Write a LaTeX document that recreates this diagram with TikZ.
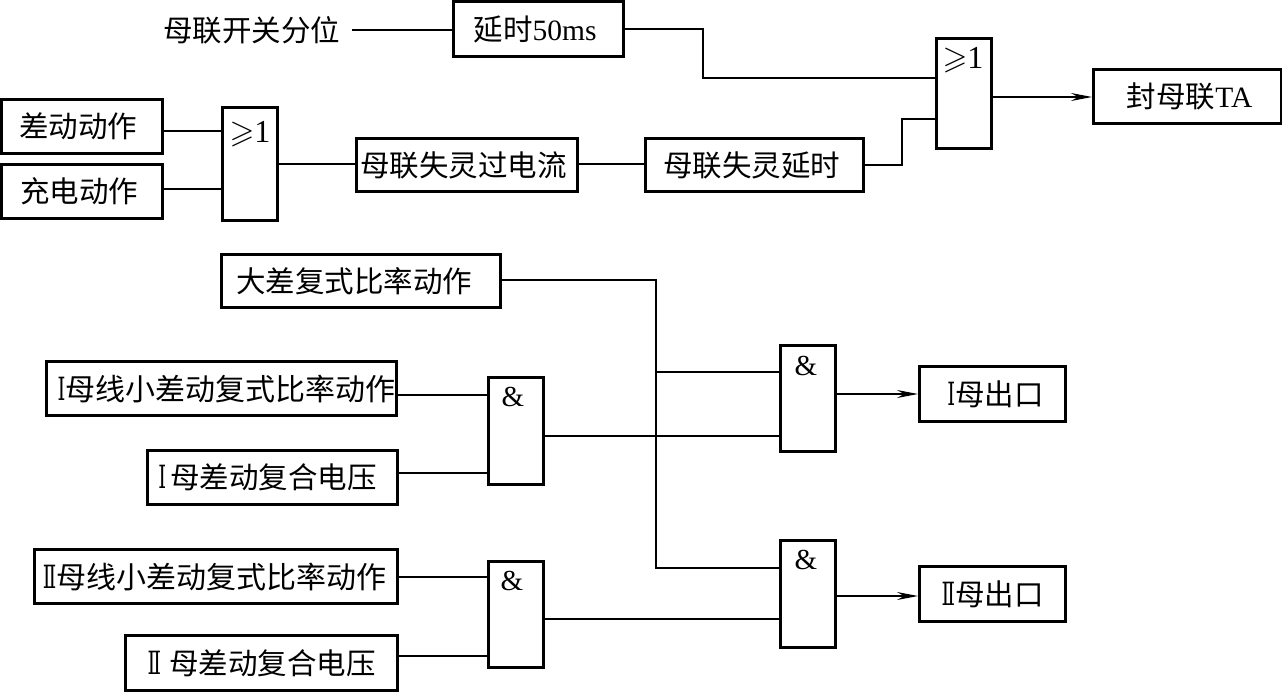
\documentclass[tikz,border=0pt]{standalone}
\usepackage{fontspec}
\setmainfont{Liberation Serif}
\newfontfamily\cjk{Noto Sans CJK SC}
\newfontfamily\romf{DejaVu Serif}
\usepackage{amssymb}
\usetikzlibrary{arrows.meta}
\tikzset{
 x=1pt,y=-1pt,
 lbl/.style={font=\cjk\fontsize{29.5}{31}\selectfont,inner sep=0pt},
 box/.style={draw,line width=3.2pt,font=\cjk\fontsize{29.5}{31}\selectfont,inner sep=0pt,minimum width=#1,minimum height=52pt,anchor=north west,xshift=-1pt,yshift=1pt},
 gate/.style={draw,line width=3pt,minimum width=55pt,inner sep=0pt,anchor=north west,xshift=-1pt,yshift=1pt},
 sym/.style={font=\fontsize{32}{34}\selectfont,inner sep=0pt},
 amp/.style={font=\fontsize{29}{31}\selectfont,inner sep=0pt},
 wire/.style={line width=1.15pt},
 arr/.style={line width=1.15pt,-{Stealth[length=21pt,width=8pt,inset=7pt]}},
}
\newcommand{\geone}{$\geqslant$1}
\newcommand{\lat}[1]{{\rmfamily #1}}
\newcommand{\romI}{{\romf\scalebox{0.62}[1]{\fontsize{32}{34}\selectfont Ⅰ}}}
\newcommand{\romII}{{\romf\scalebox{0.62}[1]{\fontsize{32}{34}\selectfont Ⅱ}}}
\newcommand{\bigt}{\fontsize{30}{32}\selectfont}
\begin{document}
\begin{tikzpicture}
\useasboundingbox (0,0) rectangle (1282,691);
\node[lbl] (kf) at (251.5,30) {母联开关分位};
\node[box=170pt,minimum height=55pt] (d50) at (453,1) {延时\lat{50ms}\kern7pt};
\node[gate,minimum height=110pt] (or2) at (936,38) {};
\node[sym] at (963,60) {\geone};
\node[box=188pt,minimum height=54pt] (fm) at (1093,69) {\kern4pt 封母联\lat{TA}};
\node[box=161pt,minimum height=54pt] (cd) at (1,99) {差动动作\kern8pt};
\node[box=161pt,minimum height=54pt] (cc) at (1,164) {充电动作\kern6pt};
\node[gate,minimum height=113pt] (or1) at (222,107) {};
\node[sym] at (250,134) {\geone};
\node[box=221pt,minimum height=53pt] (gl) at (356,138) {母联失灵过电流\kern7pt};
\node[box=218pt,minimum height=53pt] (ys) at (645,138) {母联失灵延时\kern6pt};
\node[box=279pt,minimum height=53pt] (dc) at (221,254) {大差复式比率动作\kern14pt};
\node[box=350pt,minimum height=54pt] (x1) at (46,361) {\kern10pt{\bigt\romI 母线小差动复式比率动作}};
\node[box=250pt,minimum height=54pt] (v1) at (147,450) {\romI\kern4pt 母差动复合电压\kern10pt};
\node[gate,minimum height=107pt] (a1) at (488,377) {};
\node[amp] at (513,397) {\&};
\node[gate,minimum height=106pt] (a2) at (780,345) {};
\node[amp] at (806,366) {\&};
\node[box=146pt,minimum height=55pt] (o1) at (919,366) {\kern6pt\romI 母出口};
\node[box=363pt,minimum height=54pt] (x2) at (34,549) {{\bigt\romII 母线小差动复式比率动作}\kern3pt};
\node[box=272pt,minimum height=55pt] (v2) at (125,635) {\romII\kern8pt 母差动复合电压};
\node[gate,minimum height=106pt] (a3) at (488,561) {};
\node[amp] at (512,581) {\&};
\node[gate,minimum height=107pt] (a4) at (780,540) {};
\node[amp] at (806,560) {\&};
\node[box=146pt,minimum height=55pt] (o2) at (919,566) {\romII 母出口};
\coordinate (j) at (656,372);
\coordinate (ks) at (352,30);
\draw[wire] (ks) -- (d50.west |- ks);
\draw[wire] (d50.east |- 0,29) -- (703,29) -- (703,78) -- (or2.west |- 0,78);
\draw[wire] (ys.east |- 0,165) -- (902,165) -- (902,119) -- (or2.west |- 0,119);
\draw[arr] (or2.east |- 0,97) -- (fm.west |- 0,97);
\draw[wire] (cd.east |- 0,131) -- (or1.west |- 0,131);
\draw[wire] (cc.east |- 0,189) -- (or1.west |- 0,189);
\draw[wire] (or1.east |- 0,164) -- (gl.west |- 0,164);
\draw[wire] (gl.east |- 0,164) -- (ys.west |- 0,164);
\draw[wire] (dc.east |- 0,280) -- (656,280) -- (656,568) -- (a4.west |- 0,568);
\draw[wire] (j) -- (a2.west |- j);
\draw[wire] (x1.east |- 0,395) -- (a1.west |- 0,395);
\draw[wire] (v1.east |- 0,473) -- (a1.west |- 0,473);
\draw[wire] (a1.east |- 0,436) -- (a2.west |- 0,436);
\draw[arr] (a2.east |- 0,394) -- (o1.west |- 0,394);
\draw[wire] (x2.east |- 0,577) -- (a3.west |- 0,577);
\draw[wire] (v2.east |- 0,656) -- (a3.west |- 0,656);
\draw[wire] (a3.east |- 0,619) -- (a4.west |- 0,619);
\draw[arr] (a4.east |- 0,596) -- (o2.west |- 0,596);
\end{tikzpicture}
\end{document}
